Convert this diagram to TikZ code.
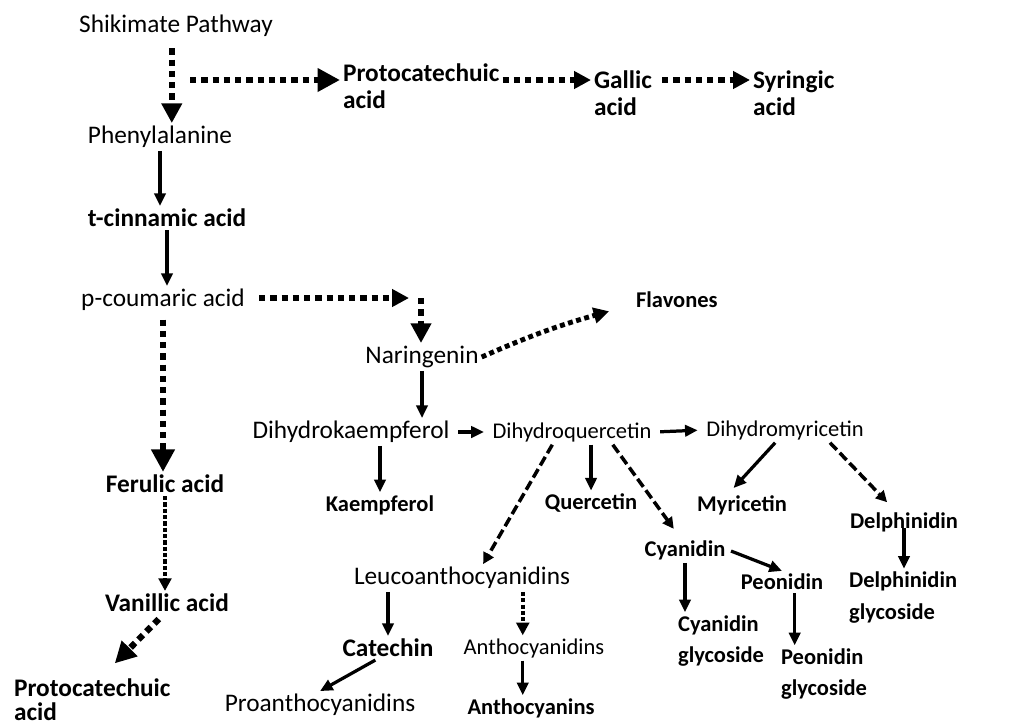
\documentclass[tikz,border=0pt]{standalone}
\usepackage{fontspec}
\setmainfont{Carlito}
\usetikzlibrary{arrows.meta}

\tikzset{
  reg/.style={inner sep=2pt,font=\fontsize{18}{22}\selectfont},
  regs/.style={inner sep=2pt,font=\fontsize{16}{20}\selectfont},
  bld/.style={inner sep=2pt,align=left,font=\fontsize{18}{19}\selectfont\bfseries},
  blds/.style={inner sep=2pt,align=left,font=\fontsize{16}{22.5}\selectfont\bfseries},
  conv/.style={line width=2.3pt,-{Triangle[length=9pt,width=8pt]}},
  dotarr/.style={line width=4.5pt,dash pattern=on 4.5pt off 3.5pt,-{Triangle[length=#1,width=#1]}},
  dotarr/.default=14pt,
  thindot/.style={line width=3pt,dash pattern=on 3pt off 1.5pt,-{Triangle[length=9pt,width=9pt]}},
  dasharr/.style={line width=2.5pt,dash pattern=on 7pt off 3pt,-{Triangle[length=8pt,width=8pt]}}
}

\begin{document}
\begin{tikzpicture}[x=0.025cm,y=-0.025cm]
\useasboundingbox (0,0) rectangle (1023,725);
\fill[white] (0,0) rectangle (1023,725);

% phenolic acids
\node[reg] (shik) at (176,26) {Shikimate Pathway};
\node[bld,anchor=west] (proT) at (340,86.5) {Protocatechuic\\acid};
\node[bld,anchor=west] (gal) at (591,93.5) {Gallic\\acid};
\node[bld,anchor=west] (syr) at (750,93.5) {Syringic\\acid};
\node[reg] (phe) at (160,137) {Phenylalanine};
\node[bld] (tcin) at (167,218) {t-cinnamic acid};
\node[reg] (pcou) at (163,300) {p-coumaric acid};
\node[bld] (fer) at (165,484) {Ferulic acid};
\node[bld] (van) at (167,603) {Vanillic acid};
\node[bld,anchor=west,font=\fontsize{18}{17}\selectfont\bfseries] (proB) at (11,700) {Protocatechuic\\acid};

% flavonoids
\node[reg] (nar) at (422,357) {Naringenin};
\node[blds,anchor=west] (flav) at (633,300) {Flavones};
\node[reg] (dhk) at (351,432) {Dihydrokaempferol};
\node[regs] (dhq) at (572,432) {Dihydroquercetin};
\node[regs] (dhm) at (785,430) {Dihydromyricetin};
\node[blds] (kae) at (380,505) {Kaempferol};
\node[blds] (que) at (591,503) {Quercetin};
\node[blds] (myr) at (742,505) {Myricetin};
\node[blds] (del) at (904,522) {Delphinidin};
\node[blds,anchor=west] (delg) at (846,597.5) {Delphinidin\\glycoside};
\node[reg] (leu) at (462,578) {Leucoanthocyanidins};
\node[blds] (cya) at (685,550) {Cyanidin};
\node[blds] (peo) at (782,582) {Peonidin};
\node[blds,anchor=west] (cyag) at (675,641) {Cyanidin\\glycoside};
\node[blds,anchor=west] (peog) at (778,674) {Peonidin\\glycoside};
\node[bld] (cat) at (388,648) {Catechin};
\node[reg] (proa) at (320,705) {Proanthocyanidins};
\node[regs] (anthd) at (534,648) {Anthocyanidins};
\node[blds] (anthn) at (531,708) {Anthocyanins};

\coordinate (br) at (190,80);
\coordinate (elb1) at (409,298);
\coordinate (elb2) at (421,298);

% connectors
\draw[dotarr,shorten <=6pt] ([xshift=-3pt]shik.south) -- ([xshift=-3pt]shik.south |- phe.north);
\draw[dotarr=16pt] (br) -- (proT.west |- br);
\draw[dotarr=12pt] (proT.east |- br) -- (gal.west |- br);
\draw[dotarr=12pt,shorten <=5pt] (gal.east |- br) -- (syr.west |- br);
\draw[conv] (phe.south) -- (phe.south |- tcin.north);
\draw[conv] (tcin.south) -- (tcin.south |- pcou.north);
\draw[dotarr=12pt,shorten <=8pt] (pcou.east |- elb1) -- (elb1);
\draw[dotarr] (elb2) -- (elb2 |- nar.north);
\draw[dotarr=16pt,shorten <=4pt] (pcou.south) -- (pcou.south |- fer.north);
\draw[thindot] (fer.south) -- (fer.south |- van.north);
\draw[dotarr=15pt,shorten <=4pt] ([xshift=-3pt]van.south) -- ([shift={(16pt,9pt)}]proB.north);
\draw[conv] (nar.south) -- (nar.south |- dhk.north);
\draw[dotarr=11pt,line width=3.5pt,dash pattern=on 3.5pt off 2.5pt] (nar.east) to[bend left=4] ([shift={(-17pt,-8pt)}]flav.west);
\draw[conv,shorten <=4pt,shorten >=4pt] (dhk.east) -- (dhq.west);
\draw[conv,shorten <=4pt,shorten >=4pt] (dhq.east) -- (dhm.west);
\draw[conv] (kae.north |- dhk.south) -- (kae.north);
\draw[conv] (que.north |- dhq.south) -- (que.north);
\draw[dasharr] ([xshift=-14pt]dhq.south) -- ([xshift=15pt]leu.north);
\draw[dasharr] ([xshift=29pt]dhq.south) -- ([shift={(-8pt,6pt)}]cya.north);
\draw[conv] ([xshift=-7pt]dhm.south) -- ([shift={(-6pt,3pt)}]myr.north);
\draw[dasharr] ([xshift=32pt]dhm.south) -- ([shift={(-12pt,5pt)}]del.north);
\draw[conv] ([yshift=5pt]del.south) -- (del.south |- delg.north);
\draw[conv,shorten <=2pt] (cya.east) -- (peo.north);
\draw[conv] (cya.south) -- (cya.south |- cyag.north);
\draw[conv] ([xshift=9pt]peo.south) -- ([xshift=9pt]peo.south |- peog.north);
\draw[conv] (cat.north |- leu.south) -- (cat.north);
\draw[conv] ([xshift=-9pt]cat.south) -- (proa.north);
\draw[thindot] ([xshift=-8pt]anthd.north |- leu.south) -- ([xshift=-8pt]anthd.north);
\draw[conv] ([xshift=-8pt]anthd.south) -- ([xshift=-8pt]anthd.south |- anthn.north);
\end{tikzpicture}
\end{document}
